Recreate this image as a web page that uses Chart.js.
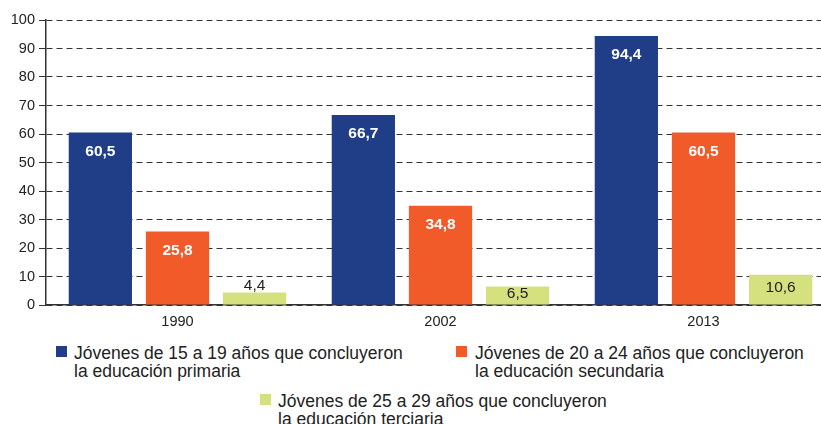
<!DOCTYPE html>
<html lang="es">
<head>
  <meta charset="UTF-8">
  <title>Jóvenes que concluyeron la educación</title>
  <script src="https://cdn.jsdelivr.net/npm/chart.js"></script>
  <style>
    body {
      margin: 0;
      background: #fff;
      overflow: hidden;
      font-family: 'Liberation Sans', Arial, sans-serif;
      width: 821px;
      height: 424px;
      position: relative;
    }

    #chartContainer {
      position: absolute;
      left: 0;
      top: 0;
      width: 835px;
      height: 330px;
    }

    .legend-item {
      position: absolute;
      font-size: 17.5px;
      line-height: 18px;
      color: #222;
    }

    .legend-box {
      position: absolute;
      width: 11px;
      height: 11px;
    }
  </style>
</head>
<body>

  <div id="chartContainer">
    <canvas id="eduChart"></canvas>
  </div>

  <div id="legend"></div>

  <script>
    const years = ['1990', '2002', '2013'];
    const primaria = [60.5, 66.7, 94.4];
    const secundaria = [25.8, 34.8, 60.5];
    const terciaria = [4.4, 6.5, 10.6];
    const seriesNames = [
      ['Jóvenes de 15 a 19 años que concluyeron', 'la educación primaria'],
      ['Jóvenes de 20 a 24 años que concluyeron', 'la educación secundaria'],
      ['Jóvenes de 25 a 29 años que concluyeron', 'la educación terciaria']
    ];
    const colors = ['#1f3e87', '#f15a29', '#d5e17f'];

    // legend placement (row 1: two items, row 2: one item centred)
    const legendPos = [
      { box: [56, 346], text: [74, 344] },
      { box: [456, 346], text: [475, 344] },
      { box: [260, 394], text: [278, 392] }
    ];

    const fmt = v => v.toFixed(1).replace('.', ',');

    // value labels: white bold inside tall bars, dark for the light green ones
    const valueLabels = {
      id: 'valueLabels',
      afterDatasetsDraw(chart) {
        const ctx = chart.ctx;
        ctx.save();
        ctx.textAlign = 'center';
        ctx.textBaseline = 'middle';
        chart.data.datasets.forEach((ds, i) => {
          const meta = chart.getDatasetMeta(i);
          meta.data.forEach((bar, j) => {
            const v = ds.data[j];
            const h = bar.base - bar.y;
            let y;
            if (i < 2) {
              ctx.font = 'bold 15.5px "Liberation Sans", Arial, sans-serif';
              ctx.fillStyle = '#fff';
              y = bar.y + 19;
            } else {
              ctx.font = '15.5px "Liberation Sans", Arial, sans-serif';
              ctx.fillStyle = '#222';
              y = h >= 16 ? (bar.y + bar.base) / 2 - 2 : bar.y - 7;
            }
            ctx.fillText(fmt(v), bar.x, y);
          });
        });
        ctx.restore();
      }
    };

    const ctx = document.getElementById('eduChart').getContext('2d');

    const chart = new Chart(ctx, {
      type: 'bar',
      data: {
        labels: years,
        datasets: [
          { label: seriesNames[0].join(' '), data: primaria, backgroundColor: colors[0] },
          { label: seriesNames[1].join(' '), data: secundaria, backgroundColor: colors[1] },
          { label: seriesNames[2].join(' '), data: terciaria, backgroundColor: colors[2] }
        ]
      },
      options: {
        responsive: true,
        maintainAspectRatio: false,
        animation: false,
        categoryPercentage: 0.88,
        barPercentage: 0.82,
        layout: {
          padding: { top: 20, left: 0, right: 0, bottom: 0 }
        },
        plugins: {
          legend: { display: false },
          tooltip: { enabled: false }
        },
        scales: {
          x: {
            grid: { display: false, drawTicks: false },
            border: { display: true, color: '#333', width: 1.5 },
            ticks: {
              padding: 8,
              color: '#222',
              font: { family: '"Liberation Sans", Arial, sans-serif', size: 14.5 }
            },
            afterFit: s => { s.height = 25; }
          },
          y: {
            min: 0,
            max: 100,
            ticks: {
              stepSize: 10,
              padding: 4,
              color: '#222',
              font: { family: '"Liberation Sans", Arial, sans-serif', size: 14.5 }
            },
            grid: {
              color: '#333',
              lineWidth: 1,
              tickLength: 7,
              tickColor: '#333',
              tickBorderDash: []
            },
            border: { display: true, color: '#333', width: 1.5, dash: [6, 4] },
            afterFit: s => { s.width = 46; }
          }
        }
      },
      plugins: [valueLabels]
    });

    // custom legend
    const legend = document.getElementById('legend');
    legendPos.forEach((p, i) => {
      const box = document.createElement('div');
      box.className = 'legend-box';
      box.style.left = p.box[0] + 'px';
      box.style.top = p.box[1] + 'px';
      box.style.background = colors[i];
      legend.appendChild(box);

      const txt = document.createElement('div');
      txt.className = 'legend-item';
      txt.style.left = p.text[0] + 'px';
      txt.style.top = p.text[1] + 'px';
      txt.innerHTML = seriesNames[i].join('<br>');
      legend.appendChild(txt);
    });
  </script>

</body>
</html>
